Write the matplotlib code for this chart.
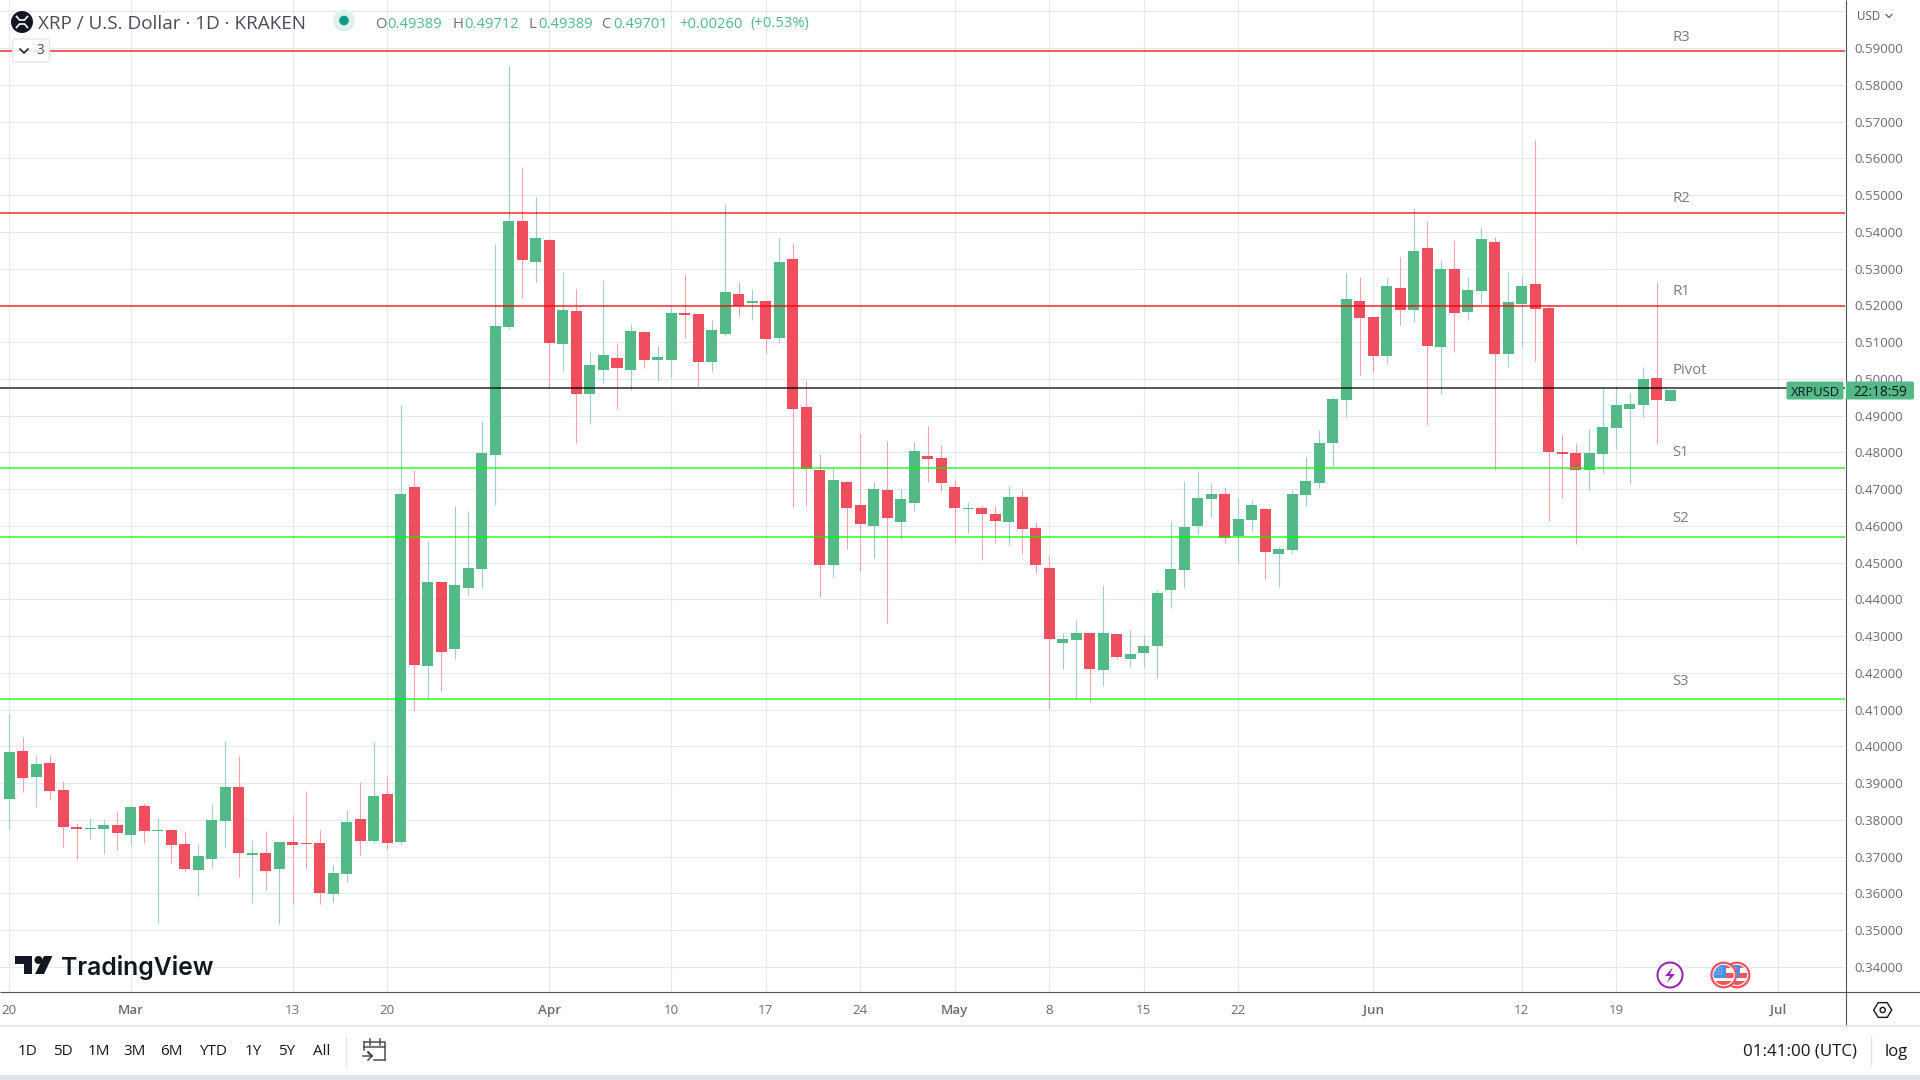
import matplotlib
matplotlib.use("Agg")
import matplotlib.pyplot as plt
from matplotlib.patches import Rectangle, Circle, Polygon, FancyBboxPatch
import numpy as np

opens = [.38582,.39864,.39182,.39537,.38828,.37819,.37764,.37764,.37873,.37600,
.38391,.37710,.37737,.37355,.36646,.36946,.37982,.38909,.37055,.37110,
.36673,.37410,.37382,.37382,.35992,.36537,.38037,.37437,.38718,.37410,
.47050,.42180,.44465,.42642,.44302,.44819,.47921,.51398,.54282,.53166,
.53765,.50951,.51850,.49589,.50242,.50569,.50242,.51278,.50515,.50515,
.51795,.51768,.50460,.51223,.52313,.52067,.52122,.51114,.53266,.49226,
.47512,.44927,.47186,.46560,.45989,.46968,.46097,.46614,.47893,.47839,
.47050,.46451,.46478,.46315,.46097,.46777,.45934,.44845,.42805,.42886,
.43077,.42070,.43050,.42376,.42539,.42730,.44254,.44798,.45995,.46730,
.46866,.45723,.46158,.46457,.45233,.45342,.46838,.47165,.48261,.49431,
.52125,.51689,.50628,.52478,.51880,.53567,.50873,.52995,.51825,.52397,
.53730,.50682,.52043,.52587,.51934,.48009,.47982,.47520,.47955,.48661,
.49177,.49285,.50018,.49389]
highs = [.40873,.40246,.39755,.39755,.39073,.37928,.38064,.38010,.38228,.38419,
.38473,.38064,.37737,.37710,.37355,.38446,.40137,.39727,.37464,.37710,
.37410,.38146,.38800,.37737,.36782,.38282,.39046,.40109,.39209,.49282,
.47513,.45581,.44465,.46533,.46397,.48846,.53656,.58499,.55751,.54935,
.53792,.52912,.52449,.50760,.52694,.50978,.51495,.51305,.50896,.51986,
.52857,.51795,.51604,.54764,.52640,.52449,.52122,.53838,.53702,.49943,
.47947,.47566,.47213,.48519,.47186,.48301,.46995,.48274,.48709,.48192,
.47267,.46641,.46560,.46533,.47077,.46968,.46097,.45172,.43077,.43431,
.43077,.44383,.43050,.43165,.43029,.44254,.46131,.47219,.47491,.47165,
.47056,.46757,.46702,.46457,.45423,.46975,.47872,.48615,.49512,.52887,
.52778,.51689,.52750,.53322,.54655,.54301,.53240,.53785,.52778,.54138,
.53866,.52914,.52805,.56508,.52016,.48498,.48254,.48634,.49747,.49801,
.49611,.50317,.52625,.49712]
lows = [.37764,.38773,.38364,.38555,.37273,.36946,.37491,.37082,.37191,.37300,
.37382,.35201,.36837,.36591,.35937,.36701,.37246,.36455,.35746,.36101,
.35173,.35719,.36673,.35719,.35773,.36319,.37055,.37382,.37191,.37328,
.40982,.41282,.41500,.42370,.44112,.44302,.46560,.51350,.52187,.52622,
.49788,.50215,.48248,.48765,.49888,.49180,.49698,.50297,.49943,.50052,
.51114,.49807,.50188,.51169,.51713,.51604,.50705,.50978,.46505,.46533,
.44056,.44601,.45363,.44737,.45118,.43349,.45635,.46397,.47186,.46941,
.45526,.45798,.45063,.45526,.45471,.45226,.44709,.41009,.42097,.41281,
.41199,.41635,.42369,.42158,.42158,.41859,.43764,.44308,.45777,.46240,
.45532,.44988,.45859,.44553,.44335,.45260,.46539,.47029,.47635,.48968,
.50111,.50193,.50410,.51472,.51553,.48751,.49594,.50737,.51608,.52070,
.47526,.50329,.50900,.50492,.46136,.46760,.45511,.46978,.47439,.48091,
.47141,.48959,.48226,.49389]
closes = [.39837,.39128,.39509,.38800,.37819,.37764,.37791,.37873,.37655,.38364,
.37710,.37737,.37328,.36673,.37028,.38010,.38909,.37110,.37110,.36619,
.37410,.37328,.37355,.36019,.36564,.37955,.37437,.38664,.37382,.46860,
.42207,.44465,.42561,.44384,.44846,.47975,.51425,.54282,.53221,.53819,
.50962,.51877,.49589,.50379,.50651,.50297,.51305,.50515,.50597,.51795,
.51741,.50460,.51332,.52367,.51986,.52122,.51087,.53184,.49180,.47539,
.44927,.47240,.46478,.46043,.46995,.46206,.46723,.48029,.47811,.47158,
.46478,.46478,.46315,.46124,.46777,.45907,.44927,.42914,.42914,.43077,
.42097,.43077,.42424,.42512,.42730,.44172,.44825,.45968,.46757,.46866,
.45668,.46185,.46566,.45287,.45369,.46866,.47219,.48261,.49458,.52179,
.51662,.50628,.52533,.51880,.53485,.50900,.52995,.51798,.52424,.53812,
.50682,.52097,.52533,.51907,.48000,.47955,.47520,.47982,.48688,.49285,
.49312,.49991,.49421,.49701]

level_names = ["R3", "R2", "R1", "Pivot", "S1", "S2", "S3"]
level_values = [.5893, .5451, .5198, .4975, .4757, .4570, .4129]
level_colors = ["#ff0000", "#ff0000", "#ff0000", "#000000", "#00ff00", "#00ff00", "#00ff00"]
label_raise_pt = [9.7, 10.7, 10.7, 12.4, 11.5, 13.2, 12.4]

time_tick_index = [0, 9, 21, 28, 40, 49, 56, 63, 70, 77, 84, 91, 101, 112, 119, 131]
time_tick_labels = ["20", "Mar", "13", "20", "Apr", "10", "17", "24", "May", "8", "15", "22", "Jun", "12", "19", "Jul"]
price_ticks = [round(.34 + .01 * k, 2) for k in range(27)]
range_buttons = ["1D", "5D", "1M", "3M", "6M", "YTD", "1Y", "5Y", "All"]
range_x = [27.7, 62.7, 98.7, 135, 171, 212.7, 253, 287, 321.7]

FONT = "Open Sans"
plt.rcParams["font.family"] = [FONT, "DejaVu Sans"]
UP = "#53b987"
DOWN = "#ee4e5e"
UP_W = "#a3cbcc"
DOWN_W = "#f7a1ad"
GRID = "#e1ecf2"
AXIS = "#50535e"
TXT = "#6a6d78"

fig = plt.figure(figsize=(19.2, 10.8), dpi=100, facecolor="white")
ax = fig.add_axes([0, (1080 - 992) / 1080, 1845.3 / 1920, 992 / 1080])
ax.set_xlim(-0.691, 135.96)
ax.set_ylim(.3332, .60306)
ax.set_facecolor("white")
for s in ax.spines.values():
    s.set_visible(False)

ax.set_axisbelow(True)
ax.yaxis.tick_right()
ax.set_yticks(price_ticks, [f"{p:.5f}" if p < .595 else "" for p in price_ticks])
ax.set_xticks(time_tick_index, time_tick_labels)
ax.grid(True, color=GRID, linewidth=.8)
ax.tick_params(axis="y", length=0, pad=6.3, labelsize=9.6, labelcolor=TXT)
ax.tick_params(axis="x", length=0, pad=8.5, labelsize=9.6, labelcolor=TXT)
for lab in ax.get_xticklabels():
    if lab.get_text() in ("Mar", "Apr", "May", "Jun", "Jul"):
        lab.set_fontweight("semibold")

idx = np.arange(len(opens))
o, h, l, c = map(np.array, (opens, highs, lows, closes))
up = c >= o
ax.vlines(idx[up], l[up], h[up], color=UP_W, linewidth=0.8, zorder=2)
ax.vlines(idx[~up], l[~up], h[~up], color=DOWN_W, linewidth=0.8, zorder=2)
body_low = np.minimum(o, c)
body_h = np.maximum(np.abs(c - o), .00027)
ax.bar(idx[up], body_h[up], bottom=body_low[up], width=.815, color=UP, linewidth=0, zorder=3)
ax.bar(idx[~up], body_h[~up], bottom=body_low[~up], width=.815, color=DOWN, linewidth=0, zorder=3)

for name, v, col, lift in zip(level_names, level_values, level_colors, label_raise_pt):
    ax.axhline(v, color=col, alpha=.64, linewidth=1.45, zorder=4)
    ax.annotate(name, xy=(123.15, v), xytext=(0, lift), textcoords="offset points",
                ha="left", va="center", fontsize=10.7, color="#787b86", zorder=5)

# Overlay in pixel coordinates for the application chrome
ov = fig.add_axes([0, 0, 1, 1], facecolor="none")
ov.set_xlim(0, 1920)
ov.set_ylim(1080, 0)
ov.axis("off")
DARK = "#131722"

ov.add_patch(Rectangle((0, 1026), 1920, 49, color="white", lw=0, zorder=1))
ov.add_patch(Rectangle((0, 1075), 1920, 5, color="#e0e3eb", lw=0, zorder=1))
ov.plot([0, 1920], [992, 992], color=AXIS, lw=.8, solid_capstyle="butt")
ov.plot([1845.5, 1845.5], [0, 1026], color=AXIS, lw=.8, solid_capstyle="butt")
ov.plot([0, 1920], [1026, 1026], color="#e0e3eb", lw=1.2)
ov.plot([345.5, 345.5], [1037, 1065], color="#e0e3eb", lw=1)
ov.plot([1870.5, 1870.5], [1037, 1065], color="#e0e3eb", lw=1)

# Header
ov.add_patch(Circle((22, 22), 11, color=DARK, lw=0))
ov.plot([16.5, 19.5, 24.5, 27.5], [16.5, 20, 20, 16.5], color="white", lw=1.2)
ov.plot([16.5, 19.5, 24.5, 27.5], [27.5, 24, 24, 27.5], color="white", lw=1.2)
ov.text(38, 24, "XRP / U.S. Dollar · 1D · KRAKEN", fontsize=13.6, color="#4a4d58", va="center", ha="left")
ov.add_patch(Circle((344, 20.5), 11, color="#e0f2ee", lw=0))
ov.add_patch(Circle((344, 20.5), 4.8, color="#089981", lw=0))
header = [("O", 375, "#6a6d78"), ("0.49389", 387, UP), ("H", 452, "#6a6d78"), ("0.49712", 464, UP),
          ("L", 528, "#6a6d78"), ("0.49389", 537.8, UP), ("C", 601.6, "#6a6d78"), ("0.49701", 613, UP),
          ("+0.00260", 679, UP), ("(+0.53%)", 750, UP)]
for s, x, col in header:
    ov.text(x, 24, s, fontsize=10.6, color=col, va="center", ha="left")
ov.add_patch(FancyBboxPatch((12.5, 39), 37, 23, boxstyle="round,pad=0,rounding_size=3",
                            fc=(1, 1, 1, .85), ec="#e0e3eb", lw=.9, zorder=6))
ov.plot([20, 24, 28], [49, 53, 49], color=DARK, lw=1.1, zorder=7)
ov.text(40, 50.5, "3", fontsize=9.8, color="#4a4d58", va="center", ha="center", zorder=7)

# Price axis header and last price tag
ov.text(1857.5, 16, "USD", fontsize=8.4, color="#5a5d68", va="center", ha="left")
ov.plot([1886, 1889, 1892], [14.5, 17.5, 14.5], color="#5a5d68", lw=.9)
ov.add_patch(FancyBboxPatch((1786.5, 381.5), 57, 18, boxstyle="round,pad=0,rounding_size=2", fc=UP, ec="none", zorder=6))
ov.add_patch(FancyBboxPatch((1846, 381.5), 68, 18, boxstyle="round,pad=0,rounding_size=2", fc=UP, ec="none", zorder=6))
ov.text(1815, 392, "XRPUSD", fontsize=9.3, color=DARK, va="center", ha="center", zorder=7)
ov.text(1880, 392, "22:18:59", fontsize=9.8, color=DARK, va="center", ha="center", zorder=7)

# Watermark
ov.add_patch(Polygon([(15, 956), (32, 956), (32, 974), (24, 974), (24, 964), (15, 964)], color=DARK, lw=0))
ov.add_patch(Circle((38.5, 960), 4, color=DARK, lw=0))
ov.add_patch(Polygon([(44, 956), (52.5, 956), (44, 974), (35, 974)], color=DARK, lw=0))
ov.text(61, 968, "TradingView", fontsize=17.8, fontweight="semibold", family="Inter", color=DARK, va="center", ha="left")

# Events
ov.add_patch(Circle((1670, 975), 12.5, fc="white", ec="#9c27b0", lw=1.5))
ov.add_patch(Polygon([(1673, 967), (1665, 976), (1670, 976), (1667, 983), (1675, 974), (1670, 974)], color="#9c27b0", lw=0))

def flag(cx):
    ov.add_patch(Circle((cx, 975), 13, fc="white", ec="none"))
    clip = Circle((cx, 975), 10, fc="white", ec="none")
    ov.add_patch(clip)
    for y0, hh in ((965, 3), (972.5, 5), (981, 5)):
        r = Rectangle((cx - 13, y0), 26, hh, color="#f7525f", lw=0)
        ov.add_patch(r)
        r.set_clip_path(clip)
    b = Rectangle((cx - 13, 962), 15.5, 15.5, color="#4a90e2", lw=0)
    ov.add_patch(b)
    b.set_clip_path(clip)
    for px in (cx - 8, cx - 5, cx - 2):
        for py in (968, 971, 974):
            ov.add_patch(Circle((px, py), .55, fc="white", ec="none"))
    ov.add_patch(Circle((cx, 975), 12.3, fc="none", ec="#f7525f", lw=1.6))

flag(1737)
flag(1723.7)

# Settings hexagon
ang = np.deg2rad(np.arange(0, 360, 60))
ov.add_patch(Polygon(np.c_[1882.7 + 9 * np.cos(ang), 1010 + 8.5 * np.sin(ang)], fc="none", ec=DARK, lw=1))
ov.add_patch(Circle((1882.7, 1010), 2.6, fc="none", ec=DARK, lw=1))

# Bottom toolbar
for s, x in zip(range_buttons, range_x):
    ov.text(x, 1051.5, s, fontsize=11, color=DARK, va="center", ha="center")
ov.plot([364, 385, 385], [1042, 1042, 1060], color="#4a4d58", lw=1.1)
ov.plot([364, 364], [1042, 1050], color="#4a4d58", lw=1.1)
ov.plot([385, 374], [1060, 1060], color="#4a4d58", lw=1.1)
ov.plot([364, 385], [1047, 1047], color="#4a4d58", lw=1.1)
ov.plot([369.5, 369.5], [1039, 1045], color="#4a4d58", lw=1.1)
ov.plot([379.5, 379.5], [1039, 1045], color="#4a4d58", lw=1.1)
ov.plot([363, 372, 368, 372, 368], [1056, 1056, 1052, 1056, 1060], color="#4a4d58", lw=1.1)
ov.text(1857, 1051.5, "01:41:00 (UTC)", fontsize=12.2, color=DARK, va="center", ha="right")
ov.text(1896, 1051.5, "log", fontsize=12, color=DARK, va="center", ha="center")

fig.savefig("out.png", dpi=100, facecolor="white")
